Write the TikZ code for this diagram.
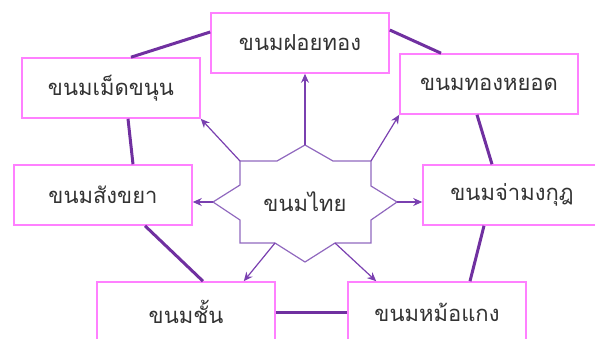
\documentclass[tikz,border=0pt]{standalone}
\usepackage{fontspec}
\usepackage{xcolor}
\newfontfamily\thaifont[Script=Thai]{Loma}
\usetikzlibrary{arrows.meta}

\definecolor{boxpink}{HTML}{FF80FF}
\definecolor{linkpurple}{HTML}{7030A0}
\definecolor{starpurple}{HTML}{9068BE}
\definecolor{arrowpurple}{HTML}{7A40B0}

\tikzset{
	kbox/.style={shape=rectangle, draw=boxpink, line width=1.6pt, fill=white, minimum width=178pt, minimum height=60pt, inner sep=0pt, font=\thaifont\fontsize{22}{26}\selectfont, text=black!80},
	link/.style={draw=linkpurple, line width=3pt},
	starline/.style={draw=starpurple, line width=1.2pt, line join=miter},
	point/.style={draw=arrowpurple, line width=1.2pt, -{Stealth[length=9pt, width=8pt]}}
}

\begin{document}
\begin{tikzpicture}[x=1pt, y=-1pt]
	\useasboundingbox (0, 0) rectangle (595, 338);
	% Boxes:
	\node[kbox] (fh) at (300, 43){ขนมฝอยทอง};
	\node[kbox] (mk) at (111, 88){ขนมเม็ดขนุน};
	\node[kbox] (th) at (489, 84){ขนมทองหยอด};
	\node[kbox] (sk) at (103, 195){ขนมสังขยา};
	\node[kbox] (jm) at (512, 195){ขนมจ่ามงกุฎ};
	\node[kbox] (ch) at (186, 312){ขนมชั้น};
	\node[kbox] (mh) at (437, 312){ขนมหม้อแกง};
	% Ring of links:
	\draw[link] ([yshift=11pt]fh.west) -- ([xshift=20pt]mk.north);
	\draw[link] ([yshift=13pt]fh.east) -- ([xshift=-48pt]th.north);
	\draw[link] ([xshift=17pt]mk.south) -- ([xshift=30pt]sk.north);
	\draw[link] ([xshift=-12pt]th.south) -- ([xshift=-20pt]jm.north);
	\draw[link] ([xshift=42pt]sk.south) -- ([xshift=17pt]ch.north);
	\draw[link] ([xshift=-28pt]jm.south) -- ([xshift=33pt]mh.north);
	\draw[link] (ch.east) -- (mh.west);
	% Star in the middle:
	\draw[starline] (305, 145) coordinate (sn) -- (333, 161) -- (371, 161) coordinate (sne) -- (371, 186) -- (397, 202) coordinate (se) -- (371, 220) -- (371, 243) -- (335, 243) coordinate (sse) -- (305, 262) -- (275, 243) coordinate (ssw) -- (240, 243) -- (240, 220) -- (213, 202) coordinate (sw) -- (240, 185) -- (240, 161) coordinate (snw) -- (277, 161) -- cycle;
	\node[font=\thaifont\fontsize{22}{26}\selectfont, text=black!80] (thai) at (305, 202){ขนมไทย};
	% Arrows out of the star:
	\draw[point] (sn) -- ([xshift=5pt]fh.south);
	\draw[point] (snw) -- (mk.south east);
	\draw[point] (sne) -- (th.south west);
	\draw[point] (sw) -- (sk.east |- sw);
	\draw[point] (se) -- (jm.west |- se);
	\draw[point] (ssw) -- ([xshift=-32pt]ch.north east);
	\draw[point] (sse) -- ([xshift=29pt]mh.north west);
\end{tikzpicture}
\end{document}
